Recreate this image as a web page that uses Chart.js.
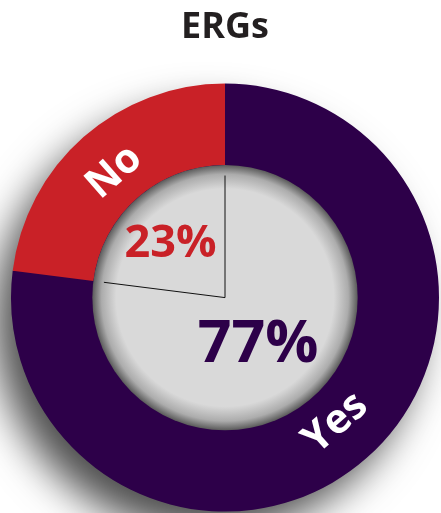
<!DOCTYPE html>
<html>
<head>
<meta charset="utf-8">
<script src="https://cdn.jsdelivr.net/npm/chart.js@4/dist/chart.umd.min.js"></script>
<style>
  html, body { margin: 0; padding: 0; background: #fff; }
  #wrap { width: 441px; height: 513px; }
</style>
</head>
<body>
<div id="wrap"><canvas id="ergChart"></canvas></div>
<script>
// ---------- Data ----------
const categories = ['Yes', 'No'];
const shares = [77, 23];

// ---------- Drawing helpers ----------
const PURPLE = '#2d0049';
const RED = '#c92127';

function ringGeometry(chart) {
    const meta = chart.getDatasetMeta(0);
    const arc = meta.data[0];
    return { meta, x: arc.x, y: arc.y, outer: arc.outerRadius, inner: arc.innerRadius };
}

// shadow behind the ring
const ringShadow = {
    id: 'ringShadow',
    beforeDatasetsDraw(chart) {
        const g = ringGeometry(chart);
        const ctx = chart.ctx;
        ctx.save();
        ctx.shadowColor = 'rgba(0,0,0,0.7)';
        ctx.shadowBlur = 40;
        ctx.shadowOffsetX = -18;
        ctx.shadowOffsetY = 24;
        ctx.beginPath();
        ctx.arc(g.x, g.y, g.outer - 2, 0, Math.PI * 2);
        ctx.fillStyle = PURPLE;
        ctx.fill();
        ctx.restore();
    }
};

// centre disc, divider lines, labels
const centreDecor = {
    id: 'centreDecor',
    afterDatasetsDraw(chart) {
        const g = ringGeometry(chart);
        const ctx = chart.ctx;
        const ri = g.inner;

        // grey disc with shaded rim
        ctx.save();
        const grad = ctx.createRadialGradient(g.x, g.y, 0, g.x, g.y, ri);
        grad.addColorStop(0, '#d9d9d9');
        grad.addColorStop(0.82, '#d9d9d9');
        grad.addColorStop(0.93, '#acacac');
        grad.addColorStop(1, '#5a5a5a');
        ctx.beginPath();
        ctx.arc(g.x, g.y, ri, 0, Math.PI * 2);
        ctx.fillStyle = grad;
        ctx.fill();
        ctx.restore();

        // thin lines from the centre along the slice edges
        const lineR = ri * 0.92;
        ctx.save();
        ctx.strokeStyle = '#111';
        ctx.lineWidth = 1;
        const noArc = g.meta.data[1];
        [noArc.startAngle, noArc.endAngle].forEach(a => {
            ctx.beginPath();
            ctx.moveTo(g.x, g.y);
            ctx.lineTo(g.x + Math.cos(a) * lineR, g.y + Math.sin(a) * lineR);
            ctx.stroke();
        });
        ctx.restore();

        // percentages inside the disc
        ctx.save();
        ctx.textAlign = 'center';
        ctx.textBaseline = 'middle';
        ctx.font = 'bold 45px "Open Sans"';
        ctx.fillStyle = RED;
        ctx.fillText(shares[1] + '%', g.x - ri * 0.41, g.y - ri * 0.40);
        ctx.font = 'bold 59px "Open Sans"';
        ctx.fillStyle = PURPLE;
        ctx.fillText(shares[0] + '%', g.x + ri * 0.25, g.y + ri * 0.36);
        ctx.restore();

        // category names along the ring
        const labelR = (g.outer + g.inner) / 2 - 6;
        g.meta.data.forEach((arc, i) => {
            const mid = (arc.startAngle + arc.endAngle) / 2;
            const px = g.x + Math.cos(mid) * labelR;
            const py = g.y + Math.sin(mid) * labelR;
            let rot = mid + Math.PI / 2;
            if (Math.sin(mid) > 0) rot -= Math.PI; // keep lower labels upright
            ctx.save();
            ctx.translate(px, py);
            ctx.rotate(rot);
            ctx.textAlign = 'center';
            ctx.textBaseline = 'middle';
            ctx.font = 'bold 41px "Open Sans"';
            ctx.fillStyle = '#ffffff';
            ctx.fillText(categories[i], 0, 0);
            ctx.restore();
        });
    }
};

const ctx = document.getElementById('ergChart').getContext('2d');
new Chart(ctx, {
    type: 'doughnut',
    data: {
        labels: categories,
        datasets: [{
            data: shares,
            backgroundColor: [PURPLE, RED],
            borderWidth: 0
        }]
    },
    options: {
        responsive: true,
        maintainAspectRatio: false,
        animation: false,
        cutout: '62%',
        layout: { padding: { left: 11, right: 2, top: 0, bottom: 1 } },
        plugins: {
            legend: { display: false },
            tooltip: { enabled: false },
            title: {
                display: true,
                text: 'ERGs',
                color: '#231f20',
                font: { family: 'Open Sans', size: 36, weight: 'bold', lineHeight: 1.2 },
                padding: { top: 6, bottom: 34 }
            }
        }
    },
    plugins: [ringShadow, centreDecor]
});
</script>
</body>
</html>
